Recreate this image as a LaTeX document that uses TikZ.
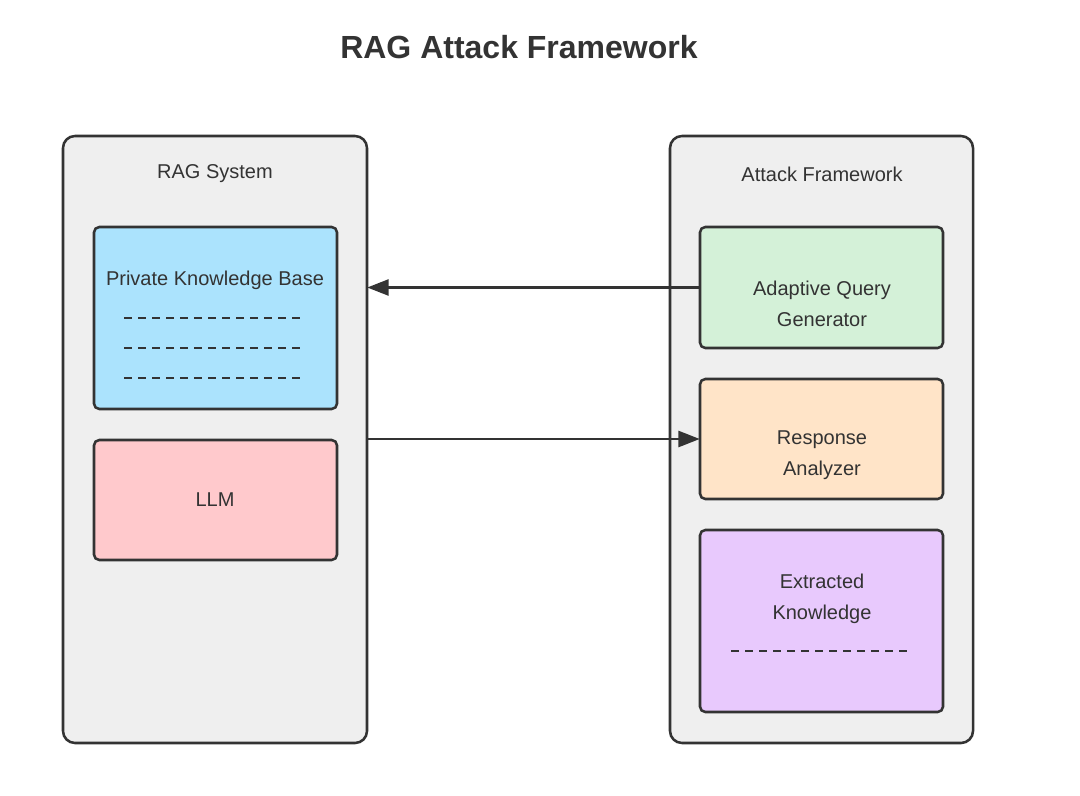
\documentclass[tikz,border=0pt]{standalone}
\usepackage{fontspec}
\setmainfont{Liberation Sans}
\usetikzlibrary{arrows.meta}
\definecolor{edge}{HTML}{333333}
\definecolor{contfill}{HTML}{EFEFEF}
\definecolor{blue1}{HTML}{ABE3FD}
\definecolor{red1}{HTML}{FFC9CC}
\definecolor{green1}{HTML}{D4F1D8}
\definecolor{orange1}{HTML}{FFE4C8}
\definecolor{purple1}{HTML}{E8C9FD}
\begin{document}
\begin{tikzpicture}[x=0.75pt,y=-0.75pt,
  cont/.style={draw=edge,fill=contfill,line width=1.9pt,rounded corners=9pt},
  box/.style={draw=edge,line width=1.9pt,rounded corners=4pt},
  lbl/.style={text=edge,font=\fontsize{15}{23}\selectfont,align=center},
  dsh/.style={draw=edge,line width=0.8pt,dash pattern=on 6pt off 4.5pt},
  arr/.style={draw=edge,line width=1.9pt,-{Triangle[length=16pt,width=12pt]}}]
\useasboundingbox (0,0) rectangle (1080,795);
\node[text=edge,font=\bfseries\fontsize{24}{28}\selectfont] (title) at (519,47) {RAG Attack Framework};
\draw[cont] (63,136) rectangle (367,743);
\node[inner sep=0,minimum width=304*0.75pt,minimum height=607*0.75pt] (leftc) at (215,439.5) {};
\draw[cont] (670,136) rectangle (973,743);
\node[inner sep=0,minimum width=303*0.75pt,minimum height=607*0.75pt] (rightc) at (821.5,439.5) {};
\node[lbl] (t1) at (215,174) {RAG System};
\node[lbl] (t2) at (822,174) {Attack Framework};
% boxes
\draw[box,fill=blue1] (94,227) rectangle (337,409);
\node[lbl] (pkb) at (215,280) {Private Knowledge Base};
\foreach \y in {318,348,378} \draw[dsh] (124,\y) -- (300,\y);
\draw[box,fill=red1] (94,440) rectangle (337,560);
\node[lbl] (llm) at (215,500) {LLM};
\draw[box,fill=green1] (700,227) rectangle (943,348);
\node[inner sep=0,minimum width=243*0.75pt,minimum height=121*0.75pt] (gen) at (821.5,287.5) {};
\node[lbl] (gent) at (822,304) {Adaptive Query\\Generator};
\draw[box,fill=orange1] (700,379) rectangle (943,499);
\node[inner sep=0,minimum width=243*0.75pt,minimum height=120*0.75pt] (ana) at (821.5,439) {};
\node[lbl] (anat) at (822,455) {Response\\Analyzer};
\draw[box,fill=purple1] (700,530) rectangle (943,712);
\node[lbl] (ext) at (822,599) {Extracted\\Knowledge};
\draw[dsh] (731,651) -- (907,651);
% arrows
\draw[arr] (gen.west) -- (gen.west -| leftc.east);
\draw[arr] (ana.west -| leftc.east) -- (ana.west);
\end{tikzpicture}
\end{document}
